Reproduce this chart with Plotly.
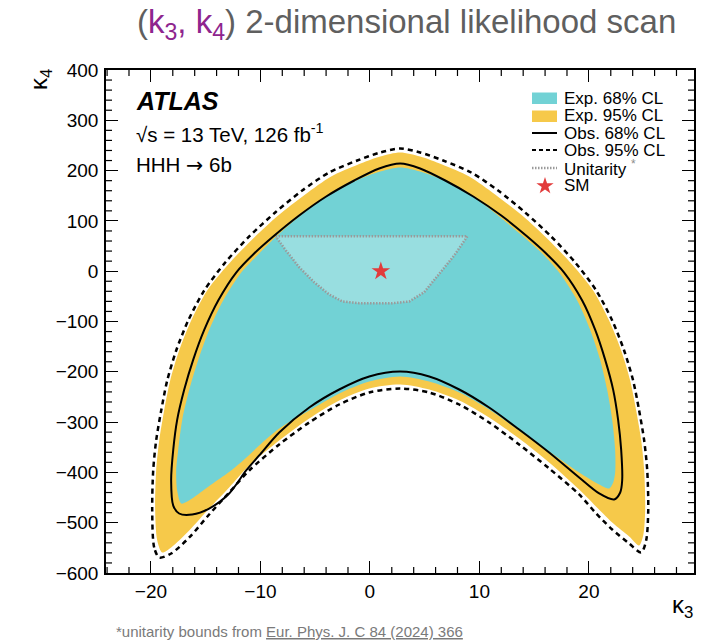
import plotly.graph_objects as go

# ---------------- data ----------------
obs95_k3 = [-19.24, -19.70, -19.88, -19.79, -19.52, -19.06, -18.51, -17.69, -16.59, -15.13, -13.21, -11.02,
            -8.65, -6.18, -3.72, -1.16, 0.94, 2.77, 4.59, 6.69, 9.25, 11.71, 14.18, 16.55, 18.75, 20.67,
            22.13, 23.22, 24.04, 24.59, 25.05, 25.33, 25.42, 25.23, 24.78,
            23.68, 22.13, 20.67, 19.11, 16.37, 13.63, 10.89, 8.16, 5.42, 2.77, -0.06, -2.80, -5.54,
            -8.28, -11.02, -12.85, -14.68, -16.50, -18.15]
obs95_k4 = [-569.2, -549.3, -475.8, -396.2, -336.6, -277.0, -217.3, -157.7, -98.0, -38.4, 17.3, 69.0,
            116.7, 160.4, 196.2, 220.1, 236.0, 243.9, 236.0, 220.1, 196.2, 160.4, 116.7, 69.0, 17.3, -38.4,
            -98.0, -157.7, -217.3, -277.0, -336.6, -396.2, -475.8, -535.4, -559.2,
            -541.4, -513.5, -481.7, -443.9, -392.2, -344.5, -300.8, -265.0, -241.2, -233.2, -241.2, -265.0,
            -300.8, -344.5, -396.2, -440.0, -483.7, -529.4, -561.2]

exp95_k3 = [-18.97, -19.42, -19.61, -19.52, -19.24, -18.79, -18.24, -17.42, -16.32, -14.86, -12.94, -10.75,
            -8.38, -5.91, -3.54, -1.07, 0.94, 2.77, 4.59, 6.60, 9.07, 11.44, 13.91, 16.28, 18.47, 20.39,
            21.85, 22.95, 23.77, 24.32, 24.78, 25.05, 25.14, 24.96, 24.59,
            23.68, 22.13, 19.11, 16.37, 13.63, 10.89, 8.16, 5.42, 2.77, -0.06, -2.80, -5.54, -8.28,
            -11.02, -12.85, -14.68, -16.50, -18.15]
exp95_k4 = [-559.2, -535.4, -475.8, -396.2, -336.6, -277.0, -217.3, -157.7, -98.0, -38.4, 13.3, 63.0,
            110.7, 152.5, 188.3, 212.1, 228.0, 236.0, 228.0, 212.1, 188.3, 152.5, 110.7, 63.0, 13.3, -38.4,
            -98.0, -157.7, -217.3, -277.0, -336.6, -396.2, -475.8, -525.4, -545.3,
            -527.4, -499.6, -434.0, -380.3, -332.6, -290.9, -257.0, -235.2, -225.2, -233.2, -257.0, -292.8,
            -336.6, -386.3, -430.0, -471.8, -515.5, -549.3]

obs68_k3 = [-17.42, -17.96, -18.15, -17.96, -17.60, -16.96, -16.14, -15.13, -13.85, -12.21, -10.57, -8.83,
            -6.46, -3.99, -1.43, 0.85, 2.77, 4.59, 6.88, 9.44, 12.00, 14.37, 16.10, 17.74, 19.39, 20.58,
            21.49, 22.22, 22.67, 22.95, 23.04, 22.86, 22.31,
            20.94, 19.11, 16.37, 13.63, 10.89, 8.16, 5.42, 2.77, -0.06, -2.80, -5.54, -8.28, -10.11, -11.30,
            -12.85, -14.68, -16.23]
obs68_k4 = [-481.7, -465.9, -416.1, -355.3, -295.6, -235.9, -176.3, -116.7, -58.2, -2.6, 35.2, 69.0,
            110.7, 148.5, 180.3, 204.2, 214.1, 204.2, 180.3, 148.5, 110.7, 69.0, 35.2, -2.6, -58.2, -116.7,
            -176.3, -235.9, -295.6, -355.3, -416.1, -440.0, -453.9,
            -441.9, -410.1, -360.4, -314.7, -271.0, -235.2, -209.3, -199.4, -209.3, -235.2, -271.0, -320.7,
            -366.3, -396.2, -441.9, -471.8, -483.7]

exp68_k3 = [-17.23, -17.60, -17.69, -17.51, -17.14, -16.50, -15.68, -14.68, -13.40, -11.75, -10.11, -8.56,
            -6.46, -3.99, -1.25, 0.94, 2.77, 4.59, 6.78, 9.44, 11.81, 14.00, 15.74, 17.29, 18.93, 20.12,
            21.03, 21.67, 22.13, 22.40, 22.40, 22.22, 21.85,
            20.94, 19.11, 16.37, 13.63, 10.89, 8.16, 5.42, 2.77, -0.06, -2.80, -5.54, -8.28, -10.11,
            -11.48, -12.67, -14.22, -15.59, -16.69]
exp68_k4 = [-461.9, -436.0, -396.2, -355.3, -295.6, -235.9, -176.3, -116.7, -58.2, -2.6, 35.2, 69.0,
            108.7, 148.5, 180.3, 198.2, 206.2, 198.2, 180.3, 148.5, 108.7, 69.0, 35.2, -2.6, -58.2, -116.7,
            -176.3, -235.9, -295.6, -355.3, -400.2, -420.1, -432.0,
            -424.1, -400.2, -358.4, -316.7, -275.0, -241.2, -219.3, -209.3, -219.3, -243.1, -277.0, -312.7,
            -346.5, -374.4, -396.2, -420.1, -441.9, -457.9]

unit_k3 = [-8.61, 8.91, 7.70, 6.33, 4.96, 3.59, 2.06, -0.98, -2.50, -3.72, -5.09, -6.46, -7.67]
unit_k4 = [69.5, 69.5, 31.2, -5.2, -41.7, -60.2, -63.6, -63.6, -60.2, -46.3, -21.9, 8.0, 41.2]

sm_k3 = [1.0]
sm_k4 = [0.0]

x_range = [-24.1, 29.6]
y_range = [-600, 400]
x_major_step, x_minor_step = 10, 2
y_major_step, y_minor_step = 100, 20

legend_labels = ["Exp. 68% CL", "Exp. 95% CL", "Obs. 68% CL", "Obs. 95% CL",
                 "Unitarity <span style=\"color:#8c8c8c\"><sup>*</sup></span>", "SM"]

# ---------------- styling ----------------
CYAN = "#72d2d5"
YELLOW = "#f6c94a"
UNIT_FILL = "rgba(255,255,255,0.27)"
UNIT_LINE = "#9a9a9a"
STAR_RED = "#e23b3b"
FONT = "Liberation Sans, Arial, sans-serif"

W, H = 710, 643
L, T, R, B = 106, 70, 694, 573
PW, PH = R - L, B - T


def fx(px):
    return (px - L) / PW


def fy(py):
    return (B - py) / PH


def closed(a):
    return a + a[:1]


fig = go.Figure()

fig.add_trace(go.Scatter(x=closed(exp95_k3), y=closed(exp95_k4), mode="lines", fill="toself",
                         fillcolor=YELLOW, line=dict(width=0, color=YELLOW, shape="spline", smoothing=0.8),
                         hoverinfo="skip"))
fig.add_trace(go.Scatter(x=closed(exp68_k3), y=closed(exp68_k4), mode="lines", fill="toself",
                         fillcolor=CYAN, line=dict(width=0, color=CYAN, shape="spline", smoothing=0.8),
                         hoverinfo="skip"))
fig.add_trace(go.Scatter(x=closed(unit_k3), y=closed(unit_k4), mode="lines", fill="toself",
                         fillcolor=UNIT_FILL, line=dict(width=2.5, color=UNIT_LINE, dash="1.5px,1.5px"),
                         hoverinfo="skip"))
fig.add_trace(go.Scatter(x=closed(obs68_k3), y=closed(obs68_k4), mode="lines",
                         line=dict(width=2, color="black", shape="spline", smoothing=0.8),
                         hoverinfo="skip"))
fig.add_trace(go.Scatter(x=closed(obs95_k3), y=closed(obs95_k4), mode="lines",
                         line=dict(width=2.5, color="black", shape="spline", smoothing=0.8, dash="5px,4px"),
                         hoverinfo="skip"))
fig.add_trace(go.Scatter(x=sm_k3, y=sm_k4, mode="markers",
                         marker=dict(symbol="star", size=14, color=STAR_RED, line=dict(width=0)),
                         hoverinfo="skip"))

# legend key star on an invisible pixel-aligned overlay axis
fig.add_trace(go.Scatter(x=[545], y=[186], xaxis="x2", yaxis="y2", mode="markers",
                         marker=dict(symbol="star", size=13, color=STAR_RED, line=dict(width=0)),
                         hoverinfo="skip"))

axis_common = dict(showline=True, linecolor="black", linewidth=1.5, mirror="allticks",
                   ticks="inside", ticklen=12, tickwidth=1.2, tickcolor="black",
                   showgrid=False, zeroline=False, tickmode="linear", tick0=0,
                   tickfont=dict(size=19, color="black", family=FONT))

fig.update_layout(
    width=W, height=H,
    margin=dict(l=L, r=W - R, t=T, b=H - B),
    paper_bgcolor="white", plot_bgcolor="white",
    showlegend=False,
    font=dict(family=FONT, color="black"),
    xaxis=dict(range=x_range, dtick=x_major_step, **axis_common),
    yaxis=dict(range=y_range, dtick=y_major_step, ticklabelstandoff=2, **axis_common),
    xaxis2=dict(overlaying="x", range=[L, R], visible=False),
    yaxis2=dict(overlaying="y", range=[B, T], visible=False),
)

ann = []
# title
ann.append(dict(x=fx(406), y=fy(24), xref="paper", yref="paper", xanchor="center", yanchor="middle",
                showarrow=False,
                text="(<span style=\"color:#8e258e\">k<sub>3</sub>, k<sub>4</sub></span>) 2-dimensional likelihood scan",
                font=dict(size=33, color="#5f5f5f", family=FONT)))
# ATLAS label block
ann.append(dict(x=fx(134), y=fy(101), xref="paper", yref="paper", xanchor="left", yanchor="middle",
                showarrow=False, text="<b><i>ATLAS</i></b>", font=dict(size=25, color="black", family=FONT)))
ann.append(dict(x=fx(134), y=fy(133), xref="paper", yref="paper", xanchor="left", yanchor="middle",
                showarrow=False, text="\u221as = 13 TeV, 126 fb<sup>-1</sup>",
                font=dict(size=20.5, color="black", family=FONT)))
ann.append(dict(x=fx(134), y=fy(165), xref="paper", yref="paper", xanchor="left", yanchor="middle",
                showarrow=False,
                text="HHH <span style=\"font-family:DejaVu Sans\">\u2192</span> 6b",
                font=dict(size=20.5, color="black", family=FONT)))
# axis titles
ann.append(dict(x=fx(40), y=fy(80), xref="paper", yref="paper", xanchor="center", yanchor="middle",
                showarrow=False, textangle=-90, text="\u03ba<sub>4</sub>",
                font=dict(size=24, color="black", family=FONT)))
ann.append(dict(x=fx(695), y=fy(606), xref="paper", yref="paper", xanchor="right", yanchor="middle",
                showarrow=False, text="\u03ba<sub>3</sub>",
                font=dict(size=24, color="black", family=FONT)))
# footnote
ann.append(dict(x=fx(114), y=fy(631), xref="paper", yref="paper", xanchor="left", yanchor="middle",
                showarrow=False,
                text="*unitarity bounds from <span style=\"text-decoration:underline\">Eur. Phys. J. C 84 (2024) 366</span>",
                font=dict(size=15, color="#7a7a7a", family=FONT)))

# legend texts
leg_rows = [98, 116, 133, 150, 168, 186]
for lab, yy in zip(legend_labels, leg_rows):
    ann.append(dict(x=fx(562), y=fy(yy), xref="paper", yref="paper", xanchor="left", yanchor="middle",
                    showarrow=False, text=lab, font=dict(size=17, color="black", family=FONT)))

shapes = [
    dict(type="rect", xref="paper", yref="paper", x0=fx(532), x1=fx(557), y0=fy(104), y1=fy(92.5),
         fillcolor=CYAN, line=dict(width=0)),
    dict(type="rect", xref="paper", yref="paper", x0=fx(532), x1=fx(557), y0=fy(122), y1=fy(110.5),
         fillcolor=YELLOW, line=dict(width=0)),
    dict(type="line", xref="paper", yref="paper", x0=fx(532), x1=fx(557), y0=fy(133), y1=fy(133),
         line=dict(color="black", width=2)),
    dict(type="line", xref="paper", yref="paper", x0=fx(532), x1=fx(557), y0=fy(150), y1=fy(150),
         line=dict(color="black", width=2, dash="4px,3px")),
    dict(type="line", xref="paper", yref="paper", x0=fx(532), x1=fx(557), y0=fy(168), y1=fy(168),
         line=dict(color=UNIT_LINE, width=2.5, dash="1.5px,1.5px")),
]

# ROOT-style minor tick marks on all four sides (inside the frame), placed in axis units
TICK_MINOR = 6
tick_line = dict(color="black", width=1.2)
xv = int(x_range[0] // x_minor_step) * x_minor_step
while xv <= x_range[1]:
    if xv >= x_range[0] and xv % x_major_step != 0:
        shapes.append(dict(type="line", xref="x", yref="paper", x0=xv, x1=xv, y0=0, y1=TICK_MINOR / PH,
                           line=tick_line))
        shapes.append(dict(type="line", xref="x", yref="paper", x0=xv, x1=xv, y0=1, y1=1 - TICK_MINOR / PH,
                           line=tick_line))
    xv += x_minor_step
yv = y_range[0]
while yv <= y_range[1]:
    if yv % y_major_step != 0:
        shapes.append(dict(type="line", xref="paper", yref="y", x0=0, x1=TICK_MINOR / PW, y0=yv, y1=yv,
                           line=tick_line))
        shapes.append(dict(type="line", xref="paper", yref="y", x0=1, x1=1 - TICK_MINOR / PW, y0=yv, y1=yv,
                           line=tick_line))
    yv += y_minor_step

fig.update_layout(annotations=ann, shapes=shapes)

fig.write_html("out.html")
